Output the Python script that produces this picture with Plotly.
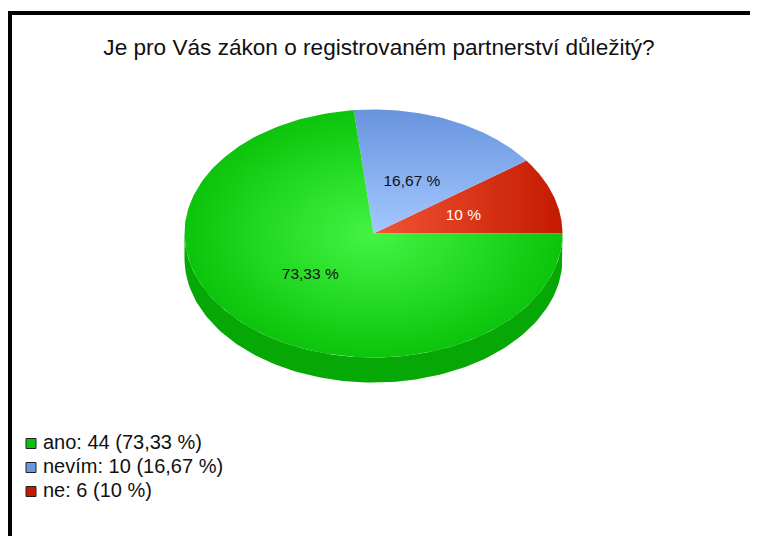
import numpy as np
import plotly.graph_objects as go

# ---- data ----
categories = ["ano", "nevím", "ne"]
counts = [44, 10, 6]
pct_labels = ["73,33 %", "16,67 %", "10 %"]
legend_labels = ["ano: 44 (73,33 %)", "nevím: 10 (16,67 %)", "ne: 6 (10 %)"]
title_text = "Je pro Vás zákon o registrovaném partnerství důležitý?"

# ---- style ----
W, H = 758, 536
OFF = 8  # browser body margin
CX, CY, RX, RY, DEPTH = 373.5, 233.5, 189, 124, 25
face_grad = {
    "ano": dict(type="radial", colorscale=[[0, "#44f444"], [0.6, "#22d822"], [1, "#0cc40c"]]),
    "nevím": dict(type="vertical", colorscale=[[0, "#a4c8ff"], [1, "#6894de"]]),
    "ne": dict(type="horizontal", colorscale=[[0, "#f25434"], [1, "#c41a00"]]),
}
side_color = {"ano": "#06a806", "nevím": "#4a74c0", "ne": "#a01400"}
legend_color = {"ano": "#10c010", "nevím": "#6c98e0", "ne": "#c41a00"}
label_color = {"ano": "#111111", "nevím": "#111111", "ne": "#ffffff"}
FONT = "Liberation Sans, Arial, sans-serif"

total = sum(counts)
# slices drawn counter-clockwise from 3 o'clock, last category first
order = list(reversed(range(len(categories))))
spans = {}
a = 0.0
for i in order:
    sweep = 360.0 * counts[i] / total
    spans[i] = (a, a + sweep)
    a += sweep


def pt(deg, dy=0.0, k=1.0):
    t = np.radians(deg)
    return CX + k * RX * np.cos(t), CY - k * RY * np.sin(t) + dy


fig = go.Figure()

# side walls (front half only)
for i in order:
    a0, a1 = spans[i]
    s0, s1 = max(a0, 180.0), min(a1, 360.0)
    if s1 <= s0:
        continue
    ang = np.linspace(s0, s1, 120)
    xt, yt = pt(ang)
    xb, yb = pt(ang[::-1], DEPTH)
    fig.add_trace(go.Scatter(
        x=np.concatenate([xt, xb, xt[:1]]), y=np.concatenate([yt, yb, yt[:1]]),
        fill="toself", fillcolor=side_color[categories[i]], mode="lines",
        line=dict(width=0), hoverinfo="skip", showlegend=False))

# top faces
for i in order:
    a0, a1 = spans[i]
    ang = np.linspace(a0, a1, 200)
    xs, ys = pt(ang)
    x = np.concatenate([[CX], xs, [CX]])
    y = np.concatenate([[CY], ys, [CY]])
    fig.add_trace(go.Scatter(
        x=x, y=y, fill="toself", fillgradient=face_grad[categories[i]],
        mode="lines", line=dict(width=0), hoverinfo="skip", showlegend=False))

# percentage labels
for i in order:
    a0, a1 = spans[i]
    mid = (a0 + a1) / 2
    t = np.radians(mid)
    lx = CX + 0.5 * RX * np.cos(t)
    ly = CY - 0.45 * RY * np.sin(t)
    fig.add_trace(go.Scatter(
        x=[lx], y=[ly], mode="text", text=[pct_labels[i]],
        textfont=dict(family=FONT, size=15.5, color=label_color[categories[i]]),
        hoverinfo="skip", showlegend=False))

# legend
LX, LY0, LDY = 31, 443.5, 24
for k, i in enumerate(range(len(categories))):
    y = LY0 + k * LDY
    fig.add_trace(go.Scatter(
        x=[LX], y=[y], mode="markers",
        marker=dict(symbol="square", size=10, color=legend_color[categories[i]],
                    line=dict(color="#222222", width=1)),
        hoverinfo="skip", showlegend=False))
    fig.add_trace(go.Scatter(
        x=[LX + 12], y=[y], mode="text", text=[legend_labels[i]], textposition="middle right",
        textfont=dict(family=FONT, size=20, color="#111111"),
        hoverinfo="skip", showlegend=False))

fig.update_layout(
    width=W - OFF, height=H - OFF, margin=dict(l=0, r=0, t=0, b=0),
    paper_bgcolor="white", plot_bgcolor="white",
    xaxis=dict(range=[OFF, W], visible=False, fixedrange=True),
    yaxis=dict(range=[H, OFF], visible=False, fixedrange=True),
    title=dict(text=title_text, x=(379 - OFF) / (W - OFF), xanchor="center",
               y=1 - (47 - OFF) / (H - OFF), yanchor="middle",
               font=dict(family=FONT, size=22.6, color="#111111")),
    shapes=[
        dict(type="line", xref="x", yref="y", x0=8, x1=W, y0=13, y1=13,
             line=dict(color="black", width=4)),
        dict(type="line", xref="x", yref="y", x0=10, x1=10, y0=11, y1=H,
             line=dict(color="black", width=4)),
    ],
)

fig.write_html("out.html")
